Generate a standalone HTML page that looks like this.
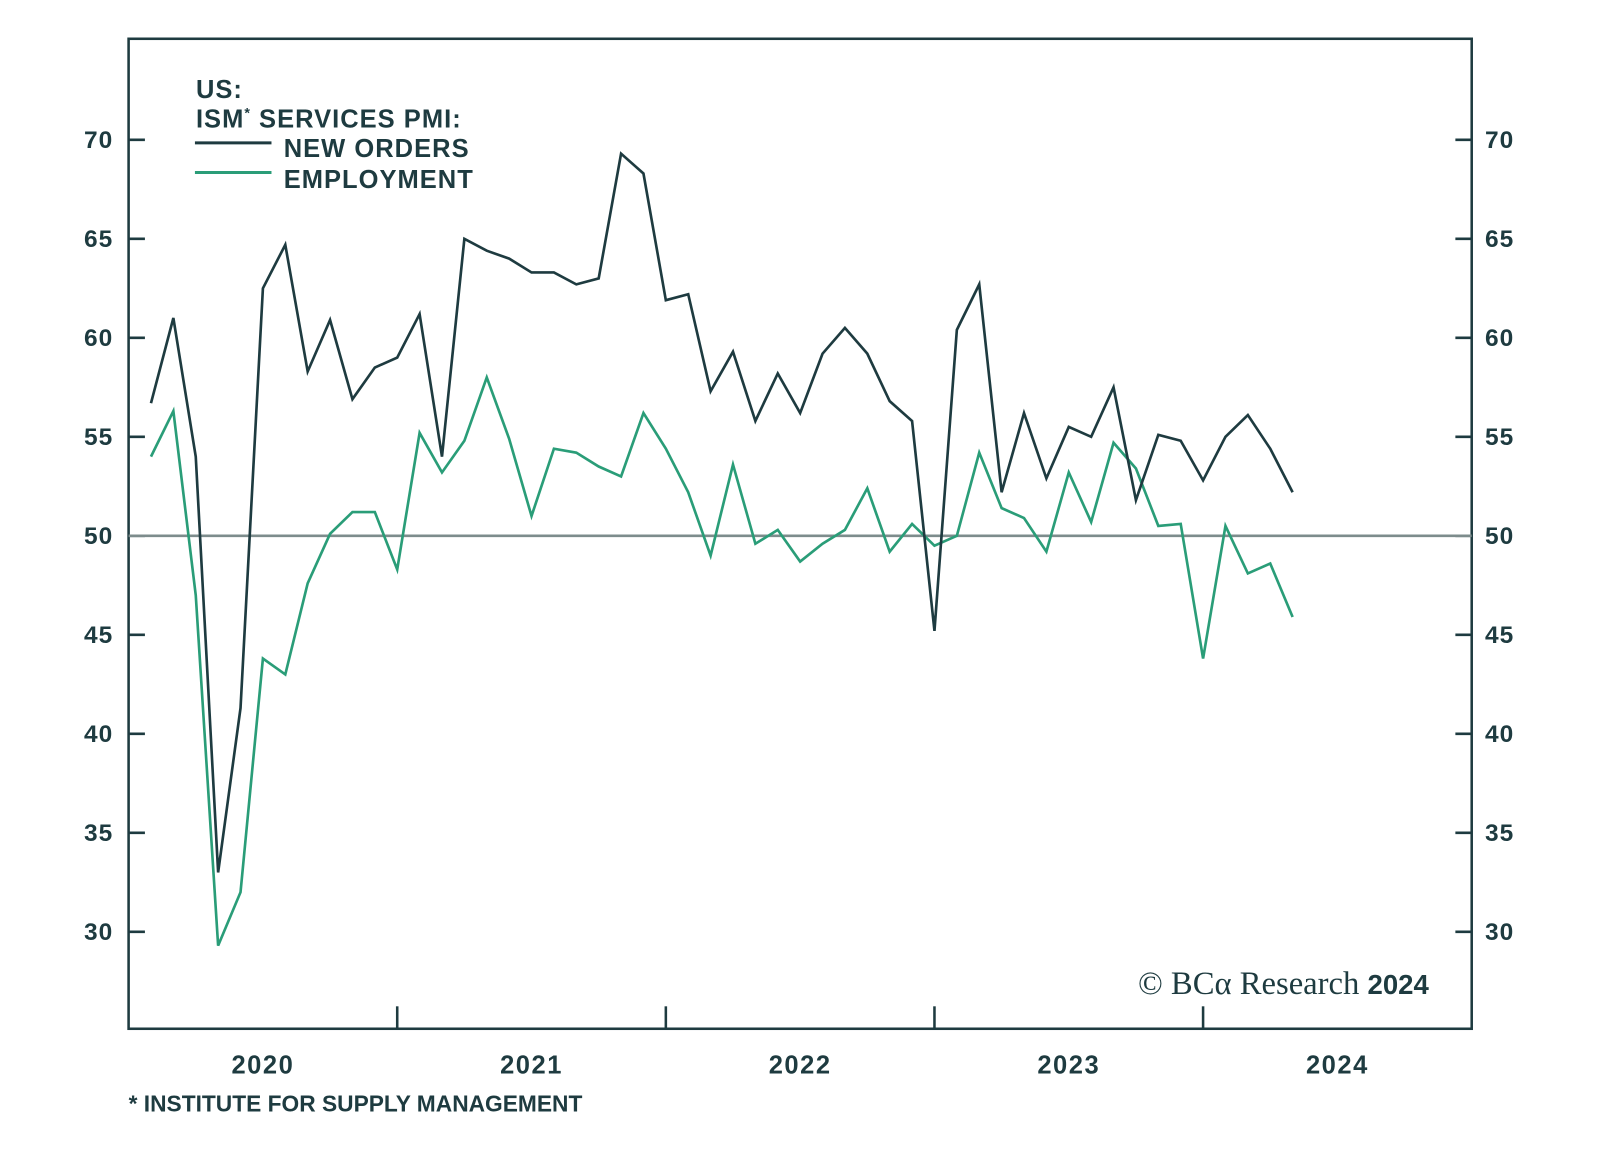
<!DOCTYPE html>
<html><head><meta charset="utf-8"><style>
html,body{margin:0;padding:0;background:#fff;width:1600px;height:1165px;overflow:hidden}
svg text{font-family:"Liberation Sans",sans-serif;font-weight:bold;fill:#1e3b40}
</style></head><body>
<svg id="chart" width="1600" height="1165" xmlns="http://www.w3.org/2000/svg">
<g transform="scale(1.0206)">
<rect x="126" y="38" width="1316" height="970" fill="none" stroke="#1e3b40" stroke-width="2.5"/>
<g id="yl"></g>
<g id="yr"></g>
<g id="xa"></g>
<g id="series"></g>
<g>
<text x="192" y="96" font-size="25" letter-spacing="1">US:</text>
<text x="192" y="125" font-size="25" letter-spacing="1">ISM<tspan font-size="14" dy="-10">*</tspan><tspan dy="10"> SERVICES PMI:</tspan></text>
<line x1="191" y1="140" x2="266" y2="140" stroke="#1e3b40" stroke-width="3"/>
<text x="278" y="154" font-size="25" letter-spacing="1">NEW ORDERS</text>
<line x1="191" y1="169" x2="266" y2="169" stroke="#2a9d78" stroke-width="3"/>
<text x="278" y="184" font-size="25" letter-spacing="1">EMPLOYMENT</text>
</g>
<text x="1115" y="974" font-size="32" style="font-family:'Liberation Serif',serif;font-weight:normal">© BCα Research <tspan style="font-family:'Liberation Sans',sans-serif;font-weight:bold" font-size="27">2024</tspan></text>
<text x="126" y="1089" font-size="22.3">* INSTITUTE FOR SUPPLY MANAGEMENT</text>
</g>
</svg>
<script>
const years=["2020","2021","2022","2023","2024"];
const yTicks=[30,35,40,45,50,55,60,65,70];
const newOrders=[56.7,61,54,33,41.3,62.5,64.7,58.3,60.9,56.9,58.5,59,61.2,54,65,64.4,64,63.3,63.3,62.7,63,69.3,68.3,61.9,62.2,57.3,59.3,55.8,58.2,56.2,59.2,60.5,59.2,56.8,55.8,45.2,60.4,62.7,52.2,56.2,52.9,55.5,55,57.5,51.8,55.1,54.8,52.8,55,56.1,54.4,52.2];
const employment=[54,56.3,47,29.3,32,43.8,43,47.6,50.1,51.2,51.2,48.3,55.2,53.2,54.8,58,54.9,51,54.4,54.2,53.5,53,56.2,54.4,52.2,49,53.6,49.6,50.3,48.7,49.6,50.3,52.4,49.2,50.6,49.5,50,54.2,51.4,50.9,49.2,53.2,50.7,54.7,53.4,50.5,50.6,43.8,50.5,48.1,48.6,45.9];
const NS="http://www.w3.org/2000/svg";
const L=126,R=1442,B=1008;
const yS=v=>525-(v-50)*19.4;
const yearW=263.2, x0=L;
const xMonth=i=>x0+(i+1)*yearW/12;
function mk(tag,attrs,parent){const e=document.createElementNS(NS,tag);for(const k in attrs)e.setAttribute(k,attrs[k]);parent.appendChild(e);return e;}
const yl=document.getElementById('yl'),yr=document.getElementById('yr'),xa=document.getElementById('xa'),sr=document.getElementById('series');
yTicks.forEach(v=>{
  const y=yS(v);
  let t=mk('line',{x1:L,x2:L+16,y1:y,y2:y,stroke:'#1e3b40','stroke-width':2.5},yl);
  
  
  let tx=mk('text',{x:111,y:y+8,'text-anchor':'end','font-size':24,'letter-spacing':1},yl);tx.textContent=v;
  
  
  let t2=mk('line',{x1:R-16,x2:R,y1:y,y2:y,stroke:'#1e3b40','stroke-width':2.5},yr);
  
  
  let tx2=mk('text',{x:1455,y:y+8,'font-size':24,'letter-spacing':1},yr);tx2.textContent=v;
  
  
});
years.forEach((yr_,k)=>{
  const xs=x0+k*yearW;
  if(k>0){let t=mk('line',{x1:xs,x2:xs,y1:B-22,y2:B,stroke:'#1e3b40','stroke-width':2.5},xa);
  
  }
  let tx=mk('text',{x:xs+yearW/2,y:1052,'text-anchor':'middle','font-size':25,'letter-spacing':1.5},xa);tx.textContent=yr_;
  
  
});
let ref=mk('line',{x1:L,x2:R,y1:yS(50),y2:yS(50),stroke:'#7d8c8c','stroke-width':2.5},sr);


function line(data,color,name){
  const p=mk('polyline',{points:data.map((v,i)=>xMonth(i)+','+yS(v)).join(' '),fill:'none',stroke:color,'stroke-width':2.6,'stroke-linejoin':'miter'},sr);
  
  
}
line(employment,'#2a9d78','employment-line');
line(newOrders,'#1e3b40','new-orders-line');
</script>
</body></html>
